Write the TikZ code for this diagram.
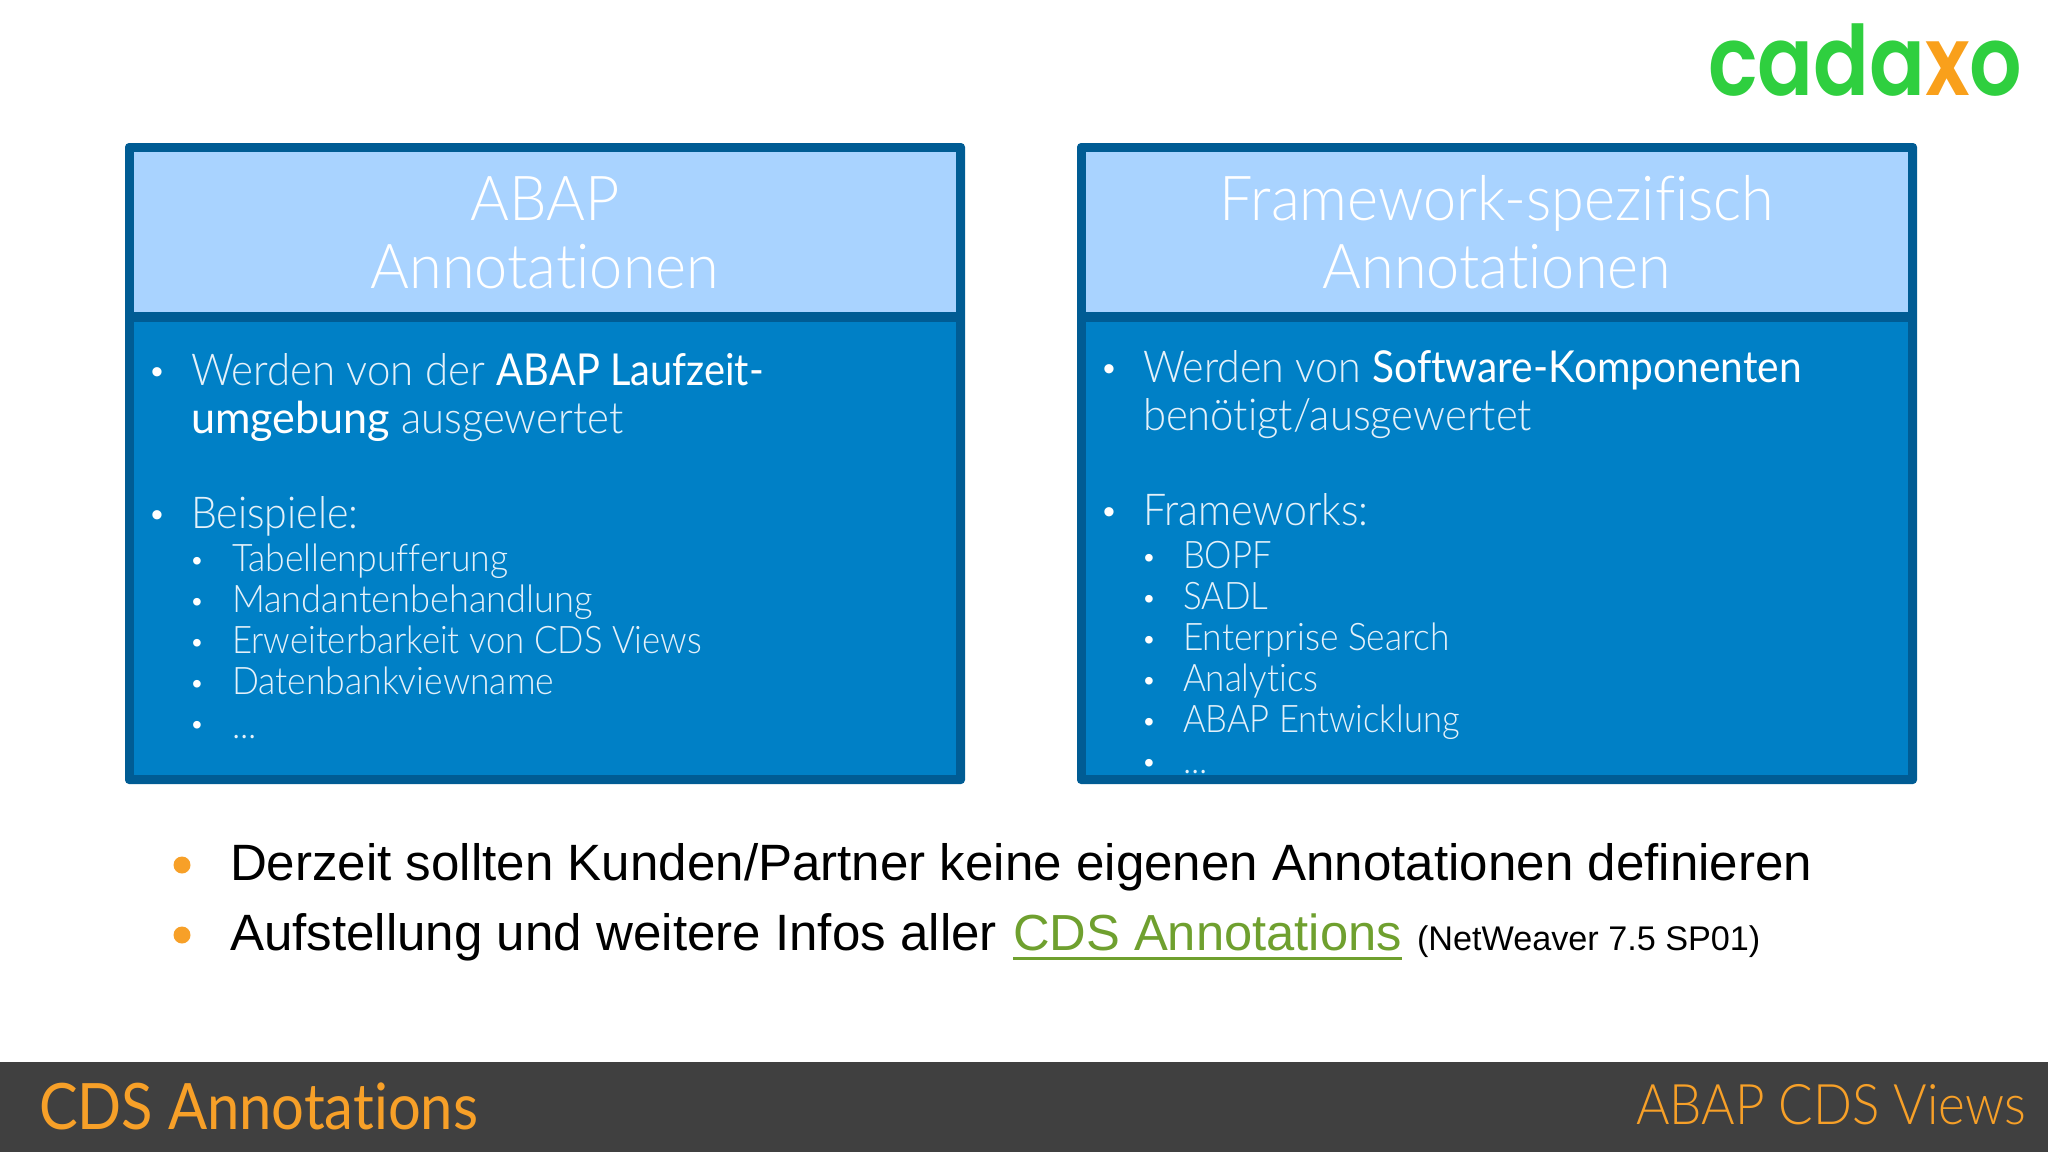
\documentclass[tikz,border=0pt]{standalone}
\usepackage{fontspec}
\setmainfont{Liberation Sans}
\newfontfamily\lt{Lato Light}[FakeStretch=0.935,Ligatures=NoCommon]
\newfontfamily\rg{Lato}[FakeStretch=0.925,Ligatures=NoCommon]
\newfontfamily\ltt{Lato Light}[FakeStretch=0.958,Ligatures=NoCommon]
\newfontfamily\fa{Lato}[FakeStretch=0.905,Ligatures=NoCommon]
\newfontfamily\fb{Lato Light}[FakeStretch=0.914,Ligatures=NoCommon]
\newfontfamily\logo{Poppins SemiBold}[FakeStretch=0.85]
\definecolor{frame}{HTML}{005C94}
\definecolor{head}{HTML}{A9D3FF}
\definecolor{body}{HTML}{0080C6}
\definecolor{bar}{HTML}{404040}
\definecolor{org}{HTML}{F7A028}
\definecolor{lnk}{HTML}{6FA02F}
\definecolor{lgreen}{HTML}{2FCF3F}
\definecolor{lorange}{HTML}{F9A01B}
\definecolor{soft}{HTML}{E4F1FA}
\tikzset{
  x=1pt,y=-1pt,
  txt/.style={anchor=base west,inner sep=0pt,outer sep=0pt},
  title/.style={anchor=base,inner sep=0pt,text=white,font=\ltt\fontsize{62}{62}\selectfont},
  main/.style={txt,text=soft,font=\lt\fontsize{44}{44}\selectfont},
  subi/.style={txt,text=soft,font=\lt\fontsize{38}{38}\selectfont},
  bull/.style={anchor=base,inner sep=0pt,text=white,font=\fontsize{34}{34}\selectfont},
  sbull/.style={anchor=base,inner sep=0pt,text=white,font=\fontsize{28}{28}\selectfont},
  big/.style={txt,text=black,font=\fontsize{51.1}{51}\selectfont},
  obull/.style={circle,fill=org,inner sep=0pt,minimum size=17pt},
}
\begin{document}
\begin{tikzpicture}
\useasboundingbox (0,0) rectangle (2048,1152);
% logo
\node[txt,text=lgreen,font=\logo\fontsize{97}{97}\selectfont] (logoA) at (1708,95) {cada\textcolor{lorange}{x}o};
% left box
\fill[frame,rounded corners=4pt] (125,143) rectangle (965,784);
\fill[head] (134,152) rectangle (956,312);
\fill[body] (134,322) rectangle (956,775);
\node[title] (lt1) at (545,220) {ABAP};
\node[title] (lt2) at (545,288) {Annotationen};
\node[bull] (lb1) at (157,383) {•};
\node[main] (l1) at (191,385) {\addfontfeature{FakeStretch=0.955}Werden von der {\rg\addfontfeature{FakeStretch=0.905}\color{white}ABAP Laufzeit-}};
\node[main] (l2) at (191,433) {{\rg\addfontfeature{FakeStretch=0.98}\color{white}umgebung} \addfontfeature{FakeStretch=0.95}ausgewertet};
\node[bull] (lb2) at (157,526) {•};
\node[main] (l3) at (191,528) {Beispiele:};
\node[sbull] (ls1) at (197,570) {•};
\node[subi] (l4) at (232,571) {Tabellenpufferung};
\node[sbull] (ls2) at (197,611) {•};
\node[subi] (l5) at (232,612) {\addfontfeature{FakeStretch=0.955}Mandantenbehandlung};
\node[sbull] (ls3) at (197,652) {•};
\node[subi] (l6) at (232,653) {\addfontfeature{FakeStretch=0.914}Erweiterbarkeit von CDS Views};
\node[sbull] (ls4) at (197,693) {•};
\node[subi] (l7) at (232,694) {Datenbankviewname};
\node[sbull] (ls5) at (197,734) {•};
\node[subi] (l8) at (232,738) {...};
% right box
\fill[frame,rounded corners=4pt] (1077,143) rectangle (1917,784);
\fill[head] (1086,152) rectangle (1908,312);
\fill[body] (1086,322) rectangle (1908,775);
\node[title] (rt1) at (1497,220) {Framework-spezifisch};
\node[title] (rt2) at (1497,288) {Annotationen};
\node[bull] (rb1) at (1109,380) {•};
\node[main] (r1) at (1143,382) {Werden von {\rg\color{white}Software-Komponenten}};
\node[main] (r2) at (1143,430) {\addfontfeature{FakeStretch=0.95}benötigt/ausgewertet};
\node[bull] (rb2) at (1109,523) {•};
\node[main] (r3) at (1143,525) {Frameworks:};
\node[sbull] (rs1) at (1149,567) {•};
\node[subi] (r4) at (1183,568) {\addfontfeature{FakeStretch=0.91}BOPF};
\node[sbull] (rs2) at (1149,608) {•};
\node[subi] (r5) at (1183,609) {\addfontfeature{FakeStretch=0.92}SADL};
\node[sbull] (rs3) at (1149,649) {•};
\node[subi] (r6) at (1183,650) {\addfontfeature{FakeStretch=0.93}Enterprise Search};
\node[sbull] (rs4) at (1149,690) {•};
\node[subi] (r7) at (1183,691) {\addfontfeature{FakeStretch=0.92}Analytics};
\node[sbull] (rs5) at (1149,731) {•};
\node[subi] (r8) at (1183,732) {\addfontfeature{FakeStretch=0.91}ABAP Entwicklung};
\node[sbull] (rs6) at (1149,772) {•};
\node[subi] (r9) at (1183,773) {...};
% bottom bullets
\node[obull] (o1) at (182,865) {};
\node[big] (b1) at (230,880) {Derzeit sollten Kunden/Partner keine eigenen Annotationen definieren};
\node[obull] (o2) at (182,935) {};
\node[big] (b2) at (230,950) {Aufstellung und weitere Infos aller};
\node[big,text=lnk,font=\fontsize{50.7}{51}\selectfont] (b3) at (1013,950) {CDS Annotations};
\draw[lnk,line width=3pt] (b3.base west)++(0,8) -- ([yshift=-8pt]b3.base east);
\node[txt,text=black,font=\fontsize{34.2}{35}\selectfont] (b4) at (1417,950) {(NetWeaver 7.5 SP01)};
% footer
\fill[bar] (0,1062) rectangle (2048,1152);
\node[txt,text=org,font=\fa\fontsize{64}{64}\selectfont] (f1) at (39,1129) {CDS Annotations};
\node[anchor=base east,inner sep=0pt,text=org,font=\fb\fontsize{56}{56}\selectfont] (f2) at (2026,1124) {ABAP CDS Views};
\end{tikzpicture}
\end{document}
